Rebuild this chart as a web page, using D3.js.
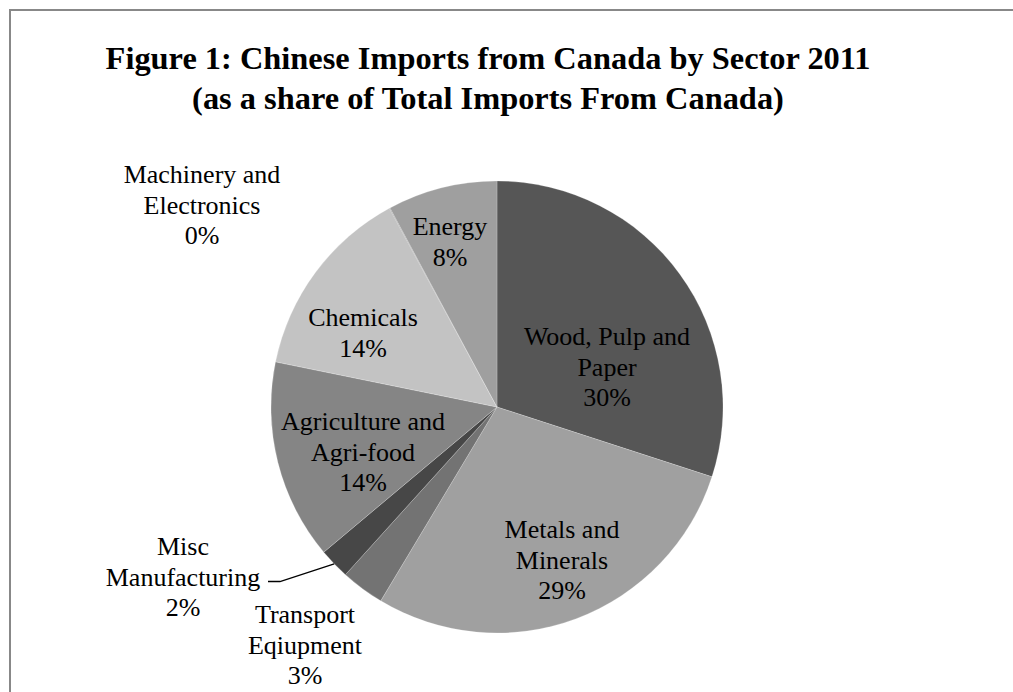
<!DOCTYPE html>
<html>
<head>
<meta charset="utf-8">
<script src="https://cdn.jsdelivr.net/npm/d3@7"></script>
<style>
  html, body { margin: 0; background: #fff; overflow: hidden; }
  svg { display: block; }
  text { font-family: "Liberation Serif", "Times New Roman", serif; fill: #000; }
</style>
</head>
<body>
<div id="chart"></div>
<script>
// slice order is clockwise from 12 o'clock, same as the source chart
var sectors = ['Wood, Pulp and Paper', 'Metals and Minerals', 'Transport Eqiupment',
  'Misc Manufacturing', 'Agriculture and Agri-food', 'Chemicals',
  'Machinery and Electronics', 'Energy'];
var shares = [30.0, 28.6, 3.1, 2.2, 14.3, 13.9, 0.05, 7.85];
var pctLabels = ['30%', '29%', '3%', '2%', '14%', '14%', '0%', '8%'];
var labelLines = [
  ['Wood, Pulp and', 'Paper'],
  ['Metals and', 'Minerals'],
  ['Transport', 'Eqiupment'],
  ['Misc', 'Manufacturing'],
  ['Agriculture and', 'Agri-food'],
  ['Chemicals'],
  ['Machinery and', 'Electronics'],
  ['Energy']
];
var titleLines = ['Figure 1: Chinese Imports from Canada by Sector 2011',
  '(as a share of Total Imports From Canada)'];

var width = 1013, height = 692;
var cx = 497, cy = 407, radius = 226;
var fontSize = 26, lineH = 30.5;

var fills = ['#565656', '#a0a0a0', '#737373', '#474747', '#858585', '#c3c3c3', '#8c8c8c', '#9f9f9f'];
// label block offsets from pie centre (first line centre), Excel "best fit" look
var labelOff = [[110, -70], [65, 123], [-192, 208], [-314, 140],
  [-134, 15], [-134, -89], [-295, -232], [-47, -180]];

var svg = d3.select('#chart').append('svg')
  .attr('width', width)
  .attr('height', height);

// chart frame: only top and left edges fall inside the picture
svg.append('path')
  .attr('d', 'M10,' + height + 'V10H' + width)
  .attr('fill', 'none')
  .attr('stroke', '#888')
  .attr('stroke-width', 2);

svg.selectAll('.title')
  .data(titleLines)
  .enter().append('text')
  .attr('class', 'title')
  .attr('x', 488)
  .attr('y', function(d, i) { return 69 + i * 40; })
  .attr('text-anchor', 'middle')
  .style('font-size', '32.4px')
  .style('font-weight', 'bold')
  .text(function(d) { return d; });

var dataset = sectors.map(function(s, i) {
  return { label: s, value: shares[i], pct: pctLabels[i], lines: labelLines[i], i: i };
});

var pie = d3.pie().value(function(d) { return d.value; }).sort(null);
var arc = d3.arc().innerRadius(0).outerRadius(radius);
var rimArc = d3.arc().innerRadius(radius).outerRadius(radius);

var g = svg.append('g').attr('transform', 'translate(' + cx + ',' + cy + ')');

var arcs = pie(dataset);

g.selectAll('path')
  .data(arcs)
  .enter().append('path')
  .attr('d', arc)
  .attr('fill', function(d) { return fills[d.data.i]; })
  .attr('stroke', '#fff')
  .attr('stroke-opacity', 0.35)
  .attr('stroke-width', 0.6);

// leader line for the small Misc slice
var misc = arcs[3];
var rim = rimArc.centroid(misc);
var lx = labelOff[3][0], ly = labelOff[3][1] + lineH;
g.append('polyline')
  .attr('points', [[lx + 85, ly + 4], [lx + 97, ly + 4], rim].map(function(p) { return p.join(','); }).join(' '))
  .attr('fill', 'none')
  .attr('stroke', '#000')
  .attr('stroke-width', 1.3);

var labels = g.selectAll('.lbl')
  .data(arcs)
  .enter().append('text')
  .attr('class', 'lbl')
  .attr('text-anchor', 'middle')
  .style('font-size', fontSize + 'px');

labels.each(function(d) {
  var t = d3.select(this);
  var off = labelOff[d.data.i];
  var lines = d.data.lines.concat([d.data.pct]);
  lines.forEach(function(s, k) {
    t.append('tspan')
      .attr('x', off[0])
      .attr('y', off[1] + k * lineH + 8)
      .text(s);
  });
});
</script>
</body>
</html>
